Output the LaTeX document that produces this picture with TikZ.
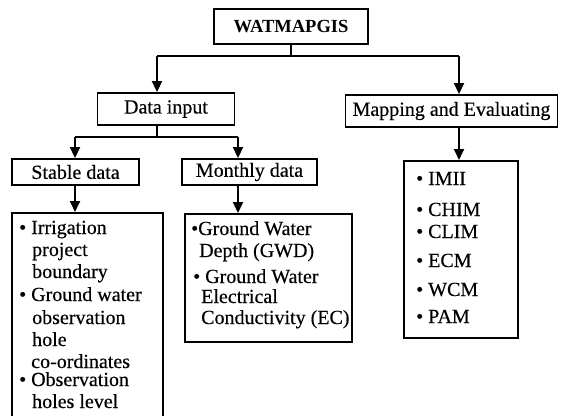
\documentclass[tikz,border=0pt]{standalone}
\usepackage{fontspec}
\setmainfont{Liberation Serif}[FakeBold=0.4]
\newfontfamily\boldhead{Liberation Serif Bold}
\usetikzlibrary{arrows.meta}
\begin{document}
\begin{tikzpicture}[x=1pt,y=-1pt,
  box/.style={draw, line width=1.9pt, inner sep=0pt, font=\fontsize{20}{22}\selectfont},
  listbox/.style={draw, line width=1.9pt, inner sep=0pt, anchor=north west},
  txt/.style={inner sep=0pt, anchor=base west, font=\fontsize{20}{22}\selectfont},
  conn/.style={line width=1.9pt},
  arr/.style={line width=1.9pt, -{Triangle[length=11pt,width=10pt]}}]
\useasboundingbox (0,0) rectangle (561,415);
\clip (0,0) rectangle (561,415);
% top level
\node[box, minimum width=154pt, minimum height=35pt, font=\fontsize{18.5}{20}\boldhead] (wat) at (291,26.5) {WATMAPGIS};
\node[box, minimum width=137pt, minimum height=32pt] (din) at (166,109) {Data input};
\node[box, minimum width=212pt, minimum height=32pt] (map) at (451.5,111) {Mapping and Evaluating};
\node[box, minimum width=127pt, minimum height=26pt] (stab) at (75.5,172) {Stable data};
\node[box, minimum width=135pt, minimum height=26pt] (mon) at (249.5,172) {Monthly data};
% list boxes
\node[listbox, minimum width=151pt, minimum height=230pt] (slist) at (11,212) {};
\node[listbox, minimum width=167pt, minimum height=128pt] (mlist) at (184,213) {};
\node[listbox, minimum width=114pt, minimum height=177pt] (rlist) at (403,160) {};
% connectors
\coordinate (j1) at (291,56);
\coordinate (jL) at (157,56);
\coordinate (jR) at (459,56);
\coordinate (j2) at (157,137);
\coordinate (j2L) at (75,137);
\coordinate (j2R) at (238,137);
\draw[conn] (wat.south) -- (j1);
\draw[conn] (jL) -- (jR);
\draw[arr] (jL) -- (jL |- din.north);
\draw[arr] (jR) -- (jR |- map.north);
\draw[conn] (j2 |- din.south) -- (j2);
\draw[conn] (j2L) -- (j2R);
\draw[arr] (j2L) -- (j2L |- stab.north);
\draw[arr] (j2R) -- (j2R |- mon.north);
\draw[arr] (j2L |- stab.south) -- (j2L |- slist.north);
\draw[arr] (j2R |- mon.south) -- (j2R |- mlist.north);
\draw[arr] (jR |- map.south) -- (jR |- rlist.north);
% stable data list
\node[txt] (s1) at (19,234) {• Irrigation};
\node[txt] (s2) at (32,256) {project};
\node[txt] (s3) at (32,278) {boundary};
\node[txt] (s4) at (19,301) {• Ground water};
\node[txt] (s5) at (32,324) {observation};
\node[txt] (s6) at (32,346) {hole};
\node[txt] (s7) at (31,368) {co-ordinates};
\node[txt] (s8) at (19,386) {• Observation};
\node[txt] (s9) at (32,408) {holes level};
% monthly data list
\node[txt] (m1) at (191,235) {•Ground Water};
\node[txt] (m2) at (199,257) {Depth (GWD)};
\node[txt] (m3) at (193,283) {• Ground Water};
\node[txt] (m4) at (201,303) {Electrical};
\node[txt] (m5) at (201,324) {Conductivity (EC)};
% mapping list
\node[txt] (r1) at (416,185) {• IMII};
\node[txt] (r2) at (416,216) {• CHIM};
\node[txt] (r3) at (416,238) {• CLIM};
\node[txt] (r4) at (416,267) {• ECM};
\node[txt] (r5) at (416,296) {• WCM};
\node[txt] (r6) at (416,323) {• PAM};
\end{tikzpicture}
\end{document}
